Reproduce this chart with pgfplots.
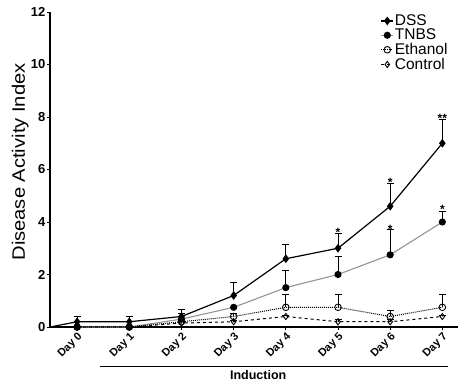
\documentclass[border=0pt]{standalone}
\usepackage{fontspec}
\setmainfont{Liberation Sans}
\usepackage{graphicx}
\usepackage{pgfplots}
\pgfplotsset{compat=1.18}
\begin{document}
\begin{tikzpicture}
\begin{axis}[
  scale only axis, width=408pt, height=315pt,
  xmin=-0.52, xmax=7.3, ymin=0, ymax=12,
  axis lines=left,
  axis line style={line width=1.1pt, -},
  xtick={0,...,7},
  xticklabels={Day 0,Day 1,Day 2,Day 3,Day 4,Day 5,Day 6,Day 7},
  ytick={0,2,...,12},
  tick align=outside, major tick length=3pt,
  tick style={line width=0.8pt, black},
  xticklabel style={rotate=45, anchor=north east, font=\bfseries\fontsize{11}{12}\selectfont, inner sep=1pt},
  yticklabel style={font=\bfseries\fontsize{13}{13}\selectfont, inner sep=1.5pt},
  /pgf/number format/assume math mode=true,
  ylabel={\scalebox{1.12}[1]{Disease Activity Index}},
  ylabel style={at={(rel axis cs:-0.073,0.524)}, anchor=center, font=\fontsize{18}{18}\selectfont},
  clip=false,
  legend style={draw=none, fill=none, at={(rel axis cs:0.81,0.995)}, anchor=north west,
    font=\fontsize{15.5}{15.5}\selectfont, row sep=0pt, inner sep=0pt, nodes={inner sep=1pt}},
  legend cell align=left,
  legend image code/.code={\draw[mark repeat=2,mark phase=2,#1] plot coordinates {(0pt,0pt)(6pt,0pt)(12pt,0pt)};},
  error bars/error bar style={solid, black, line width=1pt},
  error bars/error mark options={rotate=90, mark size=3.5pt, line width=1pt, black, solid},
]
\coordinate (O) at (rel axis cs:0,0);
% DSS
\addplot[black, line width=1.2pt, mark=diamond*, mark size=3.4pt, mark options={solid, fill=black},
  error bars/.cd, y dir=plus, y explicit]
  coordinates {(0,0.2)+-(0,0.2) (1,0.2)+-(0,0.2) (2,0.4)+-(0,0.25) (3,1.2)+-(0,0.5)
               (4,2.6)+-(0,0.55) (5,3.0)+-(0,0.55) (6,4.6)+-(0,0.85) (7,7.0)+-(0,0.9)};
\addlegendentry{DSS}
% TNBS
\addplot[gray!85, line width=1.1pt, mark=*, mark size=3pt, mark options={solid, fill=black, draw=black},
  error bars/.cd, y dir=plus, y explicit]
  coordinates {(0,0)+-(0,0) (1,0)+-(0,0) (2,0.3)+-(0,0.2) (3,0.75)+-(0,0)
               (4,1.5)+-(0,0.65) (5,2.0)+-(0,0.7) (6,2.75)+-(0,0.95) (7,4.0)+-(0,0.4)};
\addlegendentry{TNBS}
% Ethanol
\addplot[black, line width=1pt, densely dotted, mark=o, mark size=3.3pt, mark options={solid, fill=white, line width=0.9pt},
  error bars/.cd, y dir=plus, y explicit]
  coordinates {(0,0)+-(0,0) (1,0)+-(0,0) (2,0.2)+-(0,0.1) (3,0.4)+-(0,0.1)
               (4,0.75)+-(0,0.5) (5,0.75)+-(0,0.5) (6,0.4)+-(0,0.22) (7,0.75)+-(0,0.5)};
\addlegendentry{Ethanol}
% Control
\addplot[black, line width=1pt, dashed, mark=diamond, mark size=3.1pt, mark options={solid, fill=white, line width=0.9pt},
  error bars/.cd, y dir=plus, y explicit]
  coordinates {(0,0)+-(0,0) (1,0)+-(0,0) (2,0.15)+-(0,0.05) (3,0.2)+-(0,0.05)
               (4,0.4)+-(0,0.05) (5,0.2)+-(0,0.1) (6,0.2)+-(0,0.1) (7,0.4)+-(0,0.05)};
\addlegendentry{Control}
\addplot[black, line width=1.2pt, forget plot] coordinates {(-0.52,0) (0,0.2)};
% significance stars
\node[font=\bfseries\fontsize{12}{12}\selectfont, anchor=south, inner sep=0pt] at (axis cs:5,3.45) {*};
\node[font=\bfseries\fontsize{12}{12}\selectfont, anchor=south, inner sep=0pt] at (axis cs:6,5.35) {*};
\node[font=\bfseries\fontsize{12}{12}\selectfont, anchor=south, inner sep=0pt] at (axis cs:7,7.8) {**};
\node[font=\bfseries\fontsize{12}{12}\selectfont, anchor=south, inner sep=0pt] at (axis cs:6,3.55) {*};
\node[font=\bfseries\fontsize{12}{12}\selectfont, anchor=south, inner sep=0pt] at (axis cs:7,4.3) {*};
% induction bar
\draw[line width=1.1pt] (axis cs:0.44,-1.52) -- (axis cs:7.1,-1.52);
\node[font=\bfseries\fontsize{12.5}{12.5}\selectfont] at (axis cs:3.47,-1.84) {Induction};
\end{axis}
\pgfresetboundingbox
\path ([shift={(-50pt,-58pt)}]O) rectangle ([shift={(410pt,327pt)}]O);
\end{tikzpicture}
\end{document}
